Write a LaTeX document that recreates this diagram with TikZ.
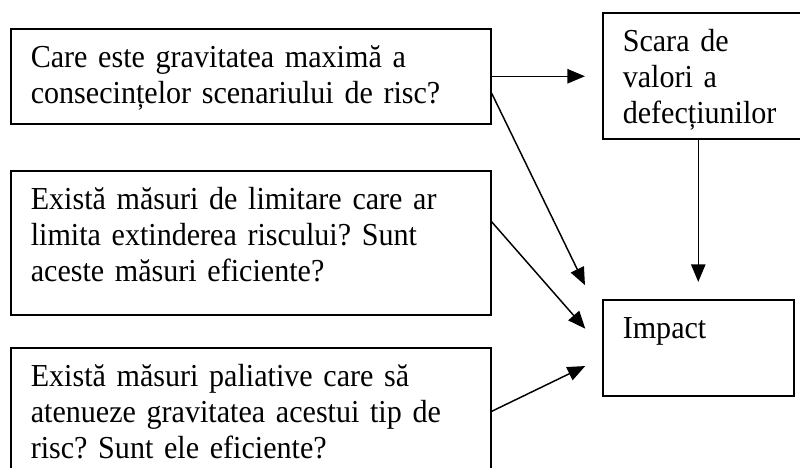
\documentclass[tikz,border=0pt]{standalone}
\usepackage{fontspec}
\setmainfont{Liberation Serif}[FakeStretch=0.94]
\usetikzlibrary{arrows.meta}
\frenchspacing

\begin{document}
\begin{tikzpicture}[x=0.375pt,y=-0.375pt,
    caseta/.style={draw,line width=0.6pt,anchor=north west,align=left,
      inner xsep=7.5pt,inner ysep=6.5pt,text height=8pt,
      font=\fontsize{12}{13.5}\selectfont},
    sageata/.style={-{Triangle[length=6.6pt,width=5.4pt]},line width=0.55pt}]
        \clip (0,0) rectangle (800,468);
        % Intrebarile din stanga
            \node[caseta,text width=165pt,text depth=14.6pt] (grav) at (10,28) {Care este gravitatea maximă a\\consecințelor scenariului de risc?};
            \node[caseta,text width=165pt,text depth=33pt] (limit) at (10,170) {Există măsuri de limitare care ar\\limita extinderea riscului? Sunt\\aceste măsuri eficiente?};
            \node[caseta,text width=165pt,text depth=33pt] (paliat) at (10,347) {Există măsuri paliative care să\\atenueze gravitatea acestui tip de\\risc? Sunt ele eficiente?};
            % Casetele din dreapta
            \node[caseta,text width=63.75pt,text depth=26.25pt] (scara) at (602,12) {Scara de\\valori a\\defecțiunilor};
            \node[caseta,text width=56.6pt,text depth=15pt] (impact) at (602,299) {Impact};

            % Conectori
            \draw[sageata,shorten >=6.4pt] (grav.east) -- (grav.east -| scara.west);
            \draw[sageata,shorten >=14.6pt] (grav.-4) -- (impact.164);
            \draw[sageata,shorten >=9.5pt] (limit.5) -- (impact.west);
            \draw[sageata,shorten >=7pt] (paliat.2) -- (impact.186);
            \draw[sageata,shorten >=6.4pt] (impact.north |- scara.south) -- (impact.north);
        \end{tikzpicture}
\end{document}
